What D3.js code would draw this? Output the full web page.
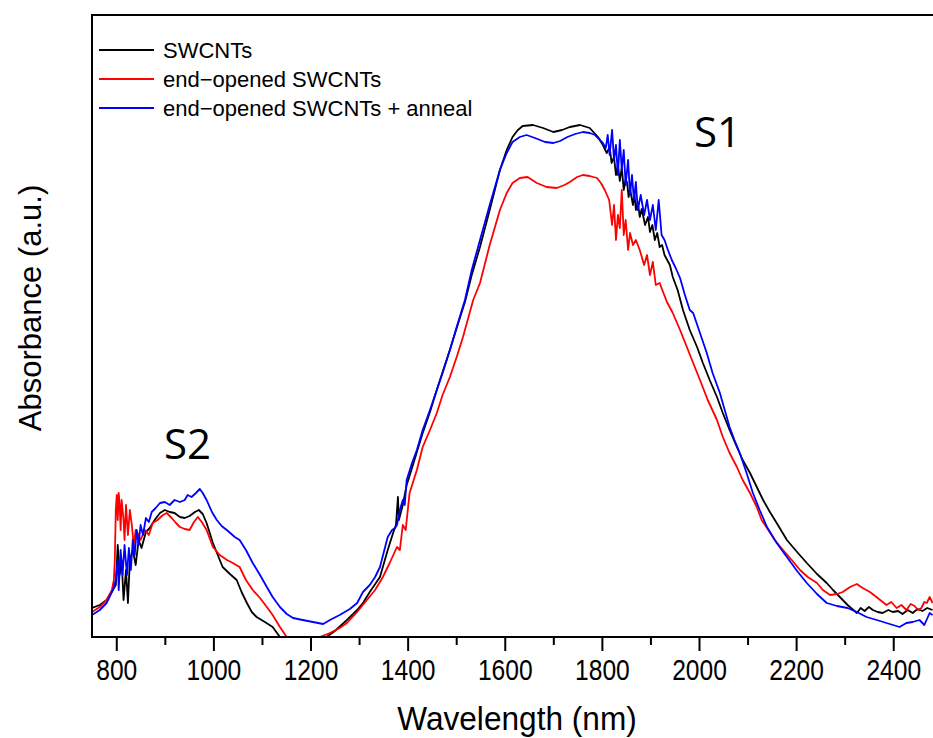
<!DOCTYPE html>
<html>
<head>
  <meta charset="utf-8">
  <title>Absorbance spectra of SWCNTs</title>
  <script src="https://d3js.org/d3.v7.min.js"></script>
  <style>
    body { margin: 0; background: #fff; }
    .tick-label { font-family: "Liberation Sans", Arial, sans-serif; font-size: 30px; }
    .axis-title { font-family: "Liberation Sans", Arial, sans-serif; font-size: 34px; }
    .y-title { font-family: "Liberation Sans", Arial, sans-serif; font-size: 31px; }
    .legend-text { font-family: "Liberation Sans", Arial, sans-serif; font-size: 22px; }
    .band { font-family: "Open Sans", sans-serif; font-size: 42px; }
  </style>
</head>
<body>
<svg id="chart" width="933" height="738"></svg>
<script>
  // x ticks (nm)
  const majorTicks = [800, 1000, 1200, 1400, 1600, 1800, 2000, 2200, 2400];
  const minorTicks = [900, 1100, 1300, 1500, 1700, 1900, 2100, 2300];

  // series names / colours
  const seriesNames = ["SWCNTs", "end\u2212opened SWCNTs", "end\u2212opened SWCNTs + anneal"];
  const seriesColors = ["#000000", "#ff0000", "#0000ff"];

  // [wavelength nm, absorbance a.u.]
  const swcnts = [
    [750,29],[766,32],[780,37],[793,47],[799,52],[803,92],[807,62],[811,77],[815,37],[820,67],
    [824,34],[828,77],[834,87],[840,72],[846,97],[852,89],[861,105],[869,109],[879,117],[890,124],
    [900,127],[910,125],[920,124],[931,120],[941,119],[951,121],[962,125],[970,127],[978,123],[986,114],
    [999,94],[1009,82],[1019,70],[1034,63],[1048,57],[1058,45],[1069,34],[1079,25],[1089,20],[1106,15],
    [1122,10],[1137,0],[1151,-8],[1178,-13],[1219,-8],[1233,0],[1250,6],[1275,17],[1296,27],[1308,34],
    [1322,45],[1343,60],[1359,87],[1370,104],[1376,112],[1380,140],[1382,117],[1390,132],[1398,152],[1409,169],
    [1419,185],[1431,204],[1446,225],[1460,247],[1472,265],[1487,287],[1501,309],[1518,335],[1532,362],[1549,390],
    [1569,427],[1590,467],[1604,487],[1616,500],[1627,507],[1637,511],[1658,512],[1679,509],[1700,505],[1718,507],
    [1734,510],[1755,512],[1775,509],[1792,500],[1802,492],[1810,484],[1816,490],[1820,474],[1825,480],[1829,462],
    [1833,472],[1837,456],[1841,470],[1845,447],[1849,458],[1852,454],[1855,440],[1858,448],[1864,432],[1867,444],
    [1870,427],[1874,435],[1878,420],[1882,428],[1889,412],[1895,420],[1899,405],[1904,412],[1909,397],[1914,404],
    [1919,390],[1924,392],[1929,382],[1940,372],[1946,360],[1956,347],[1967,327],[1981,307],
    [1996,290],[2008,274],[2022,257],[2037,240],[2049,224],[2063,207],[2078,190],[2090,177],[2105,164],[2119,150],
    [2132,137],[2146,125],[2160,114],[2181,97],[2202,85],[2222,74],[2243,63],[2263,54],[2276,47],[2290,40],
    [2306,32],[2325,24],[2333,29],[2341,26],[2350,30],[2358,27],[2368,25],[2378,24],[2390,27],[2399,25],
    [2410,26],[2419,23],[2430,27],[2440,24],[2450,28],[2460,26],[2470,29],[2481,27]
  ];

  const openedSwcnts = [
    [750,25],[766,30],[780,37],[791,47],[795,57],[797,77],[799,127],[801,142],[803,117],[805,144],
    [807,132],[809,107],[811,137],[815,117],[817,97],[820,132],[824,102],[828,127],[832,112],[836,92],
    [840,107],[844,104],[850,97],[859,107],[867,102],[875,114],[885,117],[896,122],[904,124],[914,119],
    [923,114],[931,110],[941,108],[951,107],[960,115],[968,120],[976,115],[986,107],[999,90],[1013,82],
    [1028,77],[1040,74],[1054,70],[1067,57],[1081,47],[1096,39],[1110,30],[1122,22],[1137,10],[1151,0],
    [1168,-8],[1199,-11],[1219,0],[1240,4],[1260,9],[1275,14],[1296,25],[1316,37],[1333,47],[1349,60],
    [1363,74],[1378,90],[1384,87],[1390,112],[1396,107],[1404,144],[1419,167],[1431,190],[1446,207],[1460,224],
    [1472,242],[1487,260],[1501,280],[1514,300],[1535,337],[1549,354],[1569,392],[1590,427],[1604,444],[1616,454],
    [1631,459],[1647,460],[1666,454],[1686,450],[1707,449],[1723,452],[1734,455],[1749,460],[1761,462],[1775,461],
    [1790,459],[1798,454],[1806,447],[1815,437],[1821,412],[1825,432],[1829,397],[1833,422],[1837,409],[1841,447],
    [1845,402],[1849,417],[1854,387],[1858,404],[1864,392],[1870,397],[1878,387],[1887,372],[1893,382],[1899,362],
    [1905,375],[1911,352],[1919,354],[1926,345],[1934,335],[1946,324],[1961,307],[1975,290],[1988,274],[2002,257],
    [2018,237],[2037,217],[2049,200],[2063,184],[2078,170],[2090,157],[2105,144],[2119,130],[2129,117],[2140,109],
    [2156,97],[2173,87],[2191,77],[2208,67],[2224,60],[2243,54],[2255,47],[2270,42],[2284,43],[2296,45],
    [2311,50],[2325,53],[2337,49],[2352,45],[2368,39],[2386,32],[2396,35],[2407,29],[2417,32],[2427,27],
    [2436,33],[2444,31],[2451,27],[2458,29],[2464,35],[2469,34],[2475,40],[2481,34]
  ];

  const annealedSwcnts = [
    [750,22],[766,27],[780,34],[793,47],[799,57],[803,77],[805,47],[809,87],[813,62],[817,92],
    [822,62],[826,89],[830,67],[834,97],[838,82],[842,107],[846,92],[850,112],[855,102],[861,119],
    [867,115],[873,125],[881,129],[890,134],[900,135],[910,132],[920,137],[931,135],[941,137],[947,142],
    [955,140],[964,144],[972,148],[978,144],[986,137],[997,125],[1007,117],[1017,111],[1030,106],[1044,100],
    [1054,97],[1067,87],[1081,74],[1096,62],[1110,50],[1122,40],[1137,30],[1151,23],[1164,19],[1184,17],
    [1205,15],[1226,13],[1240,17],[1260,22],[1281,28],[1296,34],[1308,45],[1322,52],[1333,60],[1343,70],
    [1351,85],[1359,100],[1368,107],[1374,109],[1378,112],[1384,127],[1390,137],[1394,132],[1398,157],[1409,174],
    [1419,187],[1431,207],[1446,227],[1460,247],[1472,264],[1487,287],[1501,310],[1518,337],[1532,367],[1549,397],
    [1569,432],[1590,467],[1604,484],[1616,495],[1631,500],[1645,502],[1662,499],[1683,495],[1700,494],[1714,496],
    [1729,500],[1745,503],[1761,505],[1775,504],[1786,502],[1796,497],[1802,494],[1808,489],[1812,502],[1816,482],
    [1821,507],[1825,477],[1829,492],[1833,462],[1837,497],[1841,467],[1845,487],[1849,452],[1854,477],[1858,442],
    [1862,462],[1866,437],[1870,455],[1874,427],[1880,442],[1887,422],[1893,437],[1899,417],[1905,432],[1911,407],
    [1917,437],[1923,402],[1929,397],[1936,387],[1944,377],[1952,369],[1961,359],[1971,342],[1981,327],[1988,324],
    [2002,304],[2016,284],[2028,264],[2043,244],[2053,227],[2063,210],[2073,197],[2084,184],[2098,164],[2111,144],
    [2125,127],[2140,110],[2160,94],[2181,80],[2202,66],[2222,54],[2243,43],[2263,34],[2284,31],[2306,29],
    [2325,25],[2345,20],[2366,17],[2386,14],[2413,10],[2427,14],[2440,15],[2454,17],[2464,12],[2475,24],
    [2481,22]
  ];

  const allSeries = [swcnts, openedSwcnts, annealedSwcnts];

  // plot box
  const plotLeft = 92, plotTop = 15, plotBottom = 637;
  const plotRight = plotLeft + 1750 * 0.4856;
  const svg = d3.select("#chart");

  const x = d3.scaleLinear().domain([750, 2500]).range([plotLeft, plotRight]);
  const y = d3.scaleLinear().domain([0, 622]).range([plotBottom, plotTop]);

  svg.append("defs").append("clipPath").attr("id", "plotClip")
    .append("rect")
    .attr("x", plotLeft).attr("y", plotTop)
    .attr("width", plotRight - plotLeft).attr("height", plotBottom - plotTop);

  // curves
  const line = d3.line().x(d => x(d[0])).y(d => y(d[1]));
  const curves = svg.append("g").attr("clip-path", "url(#plotClip)");
  allSeries.forEach((s, i) => {
    curves.append("path")
      .datum(s)
      .attr("fill", "none")
      .attr("stroke", seriesColors[i])
      .attr("stroke-width", 1.8)
      .attr("stroke-linejoin", "round")
      .attr("d", line);
  });

  // frame
  svg.append("rect")
    .attr("x", plotLeft).attr("y", plotTop)
    .attr("width", plotRight - plotLeft).attr("height", plotBottom - plotTop)
    .attr("fill", "none")
    .attr("stroke", "#000")
    .attr("stroke-width", 2);

  // x axis: major + minor ticks
  const xAxis = d3.axisBottom(x).tickValues(majorTicks).tickSize(14).tickPadding(8).tickFormat(d3.format("d"));
  const gx = svg.append("g").attr("transform", `translate(0,${plotBottom})`).call(xAxis);
  gx.attr("font-size", null).attr("font-family", null);
  gx.select(".domain").remove();
  gx.selectAll(".tick line").attr("stroke-width", 2);
  // labels are a condensed face in the original
  gx.selectAll(".tick text")
    .attr("class", "tick-label")
    .attr("fill", "#000")
    .attr("transform", "scale(0.82,1)");

  const xMinor = d3.axisBottom(x).tickValues(minorTicks).tickSize(8).tickFormat("");
  const gm = svg.append("g").attr("transform", `translate(0,${plotBottom})`).call(xMinor);
  gm.select(".domain").remove();
  gm.selectAll(".tick line").attr("stroke-width", 2);

  // axis titles
  svg.append("text")
    .attr("class", "axis-title")
    .attr("transform", "translate(517,730) scale(0.93,1)")
    .attr("text-anchor", "middle")
    .text("Wavelength (nm)");

  svg.append("text")
    .attr("class", "y-title")
    .attr("transform", "translate(41,308) rotate(-90)")
    .attr("text-anchor", "middle")
    .text("Absorbance (a.u.)");

  // legend
  const legend = svg.append("g");
  seriesNames.forEach((name, i) => {
    const ly = 50 + i * 29;
    legend.append("line")
      .attr("x1", 99).attr("x2", 154)
      .attr("y1", ly).attr("y2", ly)
      .attr("stroke", seriesColors[i])
      .attr("stroke-width", 2);
    legend.append("text")
      .attr("class", "legend-text")
      .attr("x", 163).attr("y", ly + 8)
      .text(name);
  });

  // band labels
  svg.append("text").attr("class", "band").attr("x", 694).attr("y", 147).text("S1");
  svg.append("text").attr("class", "band").attr("x", 164).attr("y", 459).text("S2");
</script>
</body>
</html>
